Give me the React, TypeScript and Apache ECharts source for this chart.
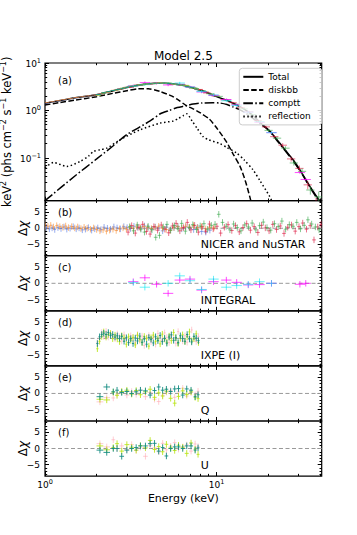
import React, { useEffect, useRef } from "react";
import * as echarts from "echarts";

const FONT = "DejaVu Sans";

// ---------- axis ranges ----------
const E_MIN = 1;
const E_MAX = 41;
const F_MIN = 0.0125;
const F_MAX = 10;
const R_LIM = 8.5;

// ---------- panel (a): model components ----------
const totalE = [1.0, 1.2, 1.5, 2.0, 2.5, 3.0, 3.5, 4.0, 4.5, 5.0, 5.5, 6.0, 6.5, 7.0, 8.0, 9.0, 10, 11.4, 12.5, 13.7, 15, 16.3, 18, 20.4, 23, 25, 28, 31, 35, 38, 41];
const totalF = [1.42, 1.6, 1.85, 2.15, 2.6, 3.05, 3.4, 3.65, 3.75, 3.75, 3.65, 3.5, 3.35, 3.1, 2.7, 2.3, 1.95, 1.65, 1.42, 1.2, 0.98, 0.78, 0.55, 0.37, 0.22, 0.15, 0.09, 0.052, 0.025, 0.016, 0.011];

const diskE = [1.0, 1.2, 1.5, 2.0, 2.5, 3.0, 3.5, 4.0, 4.7, 5.5, 6.0, 6.7, 7.3, 8.0, 9.1, 10.0, 11.4, 12.5, 13.7, 14.7, 15.6, 16.5];
const diskF = [1.3, 1.45, 1.65, 1.95, 2.3, 2.6, 2.85, 2.85, 2.5, 2.0, 1.65, 1.25, 1.08, 0.9, 0.65, 0.43, 0.22, 0.12, 0.066, 0.033, 0.0154, 0.007];

const comptE = [1.0, 1.5, 2.0, 2.5, 3.0, 3.5, 4.1, 4.7, 5.3, 5.9, 6.6, 7.3, 8.2, 9.5, 10.5, 11.5, 12.5, 13.7, 15, 16.3, 18, 19.5, 21, 23, 25, 28, 31, 35, 38, 41];
const comptF = [0.0125, 0.042, 0.095, 0.18, 0.31, 0.43, 0.6, 0.85, 1.0, 1.15, 1.25, 1.36, 1.43, 1.46, 1.43, 1.33, 1.18, 1.03, 0.85, 0.68, 0.52, 0.42, 0.32, 0.21, 0.145, 0.085, 0.05, 0.024, 0.015, 0.0095];

const reflE = [1.0, 1.12, 1.34, 1.6, 1.8, 1.91, 2.09, 2.29, 2.73, 3.58, 4.68, 5.6, 6.0, 6.4, 6.7, 7.2, 7.7, 8.35, 9.0, 10.45, 11.5, 13.1, 14.5, 16.3, 18, 20.4, 21.5];
const reflF = [0.062, 0.08, 0.066, 0.084, 0.11, 0.136, 0.148, 0.16, 0.24, 0.39, 0.54, 0.6, 0.68, 0.78, 0.85, 0.6, 0.42, 0.28, 0.24, 0.2, 0.165, 0.126, 0.09, 0.056, 0.032, 0.0153, 0.01];

// ---------- panel (a): unfolded spectra ----------
const nicerAE = [1.02, 1.10, 1.19, 1.29, 1.40, 1.52, 1.65, 1.79, 1.95, 2.12, 2.31, 2.52, 2.75, 3.0, 3.28, 3.58, 3.9, 4.26, 4.65, 5.08, 5.55, 6.06, 6.62, 7.23, 7.9, 8.63, 9.4];
const nicer1AF = [1.43, 1.52, 1.59, 1.67, 1.77, 1.85, 1.94, 2.02, 2.12, 2.25, 2.43, 2.63, 2.84, 3.06, 3.26, 3.46, 3.63, 3.72, 3.75, 3.72, 3.62, 3.47, 3.28, 2.98, 2.72, 2.42, 2.1];
const nicer2AF = [1.46, 1.53, 1.61, 1.69, 1.78, 1.87, 1.95, 2.03, 2.11, 2.23, 2.41, 2.61, 2.83, 3.06, 3.27, 3.46, 3.62, 3.72, 3.76, 3.73, 3.62, 3.5, 3.33, 3.03, 2.76, 2.46, 2.16];

const fpmaAE = [3.1, 3.5, 4.0, 4.5, 5.0, 5.6, 6.3, 7.0, 7.9, 8.8, 9.9, 11.1, 12.4, 13.9, 15.5, 17.4, 19.4, 21.7, 24.3, 27.2, 30.4, 34.0, 38.0];
const fpmaAF = [3.05, 3.43, 3.6, 3.78, 3.72, 3.58, 3.45, 3.06, 2.77, 2.33, 2.01, 1.68, 1.46, 1.14, 0.94, 0.61, 0.45, 0.28, 0.185, 0.095, 0.06, 0.027, 0.011];
const fpmaAErr = [0.02, 0.02, 0.02, 0.02, 0.02, 0.02, 0.02, 0.03, 0.03, 0.03, 0.03, 0.04, 0.04, 0.05, 0.05, 0.06, 0.07, 0.08, 0.1, 0.12, 0.15, 0.2, 0.3];
const fpmbAE = [3.2, 3.6, 4.1, 4.6, 5.2, 5.8, 6.5, 7.3, 8.2, 9.2, 10.3, 11.5, 12.9, 14.4, 16.1, 18.0, 20.1, 22.5, 25.2, 28.2, 31.5, 35.2, 39.4];
const fpmbAF = [3.22, 3.44, 3.7, 3.72, 3.76, 3.54, 3.38, 2.99, 2.6, 2.25, 1.98, 1.66, 1.35, 1.08, 0.82, 0.57, 0.38, 0.26, 0.16, 0.078, 0.052, 0.021, 0.015];
const fpmbAErr = [0.02, 0.02, 0.02, 0.02, 0.02, 0.02, 0.02, 0.03, 0.03, 0.03, 0.03, 0.04, 0.04, 0.05, 0.05, 0.06, 0.07, 0.08, 0.1, 0.12, 0.15, 0.2, 0.3];

const intMagE = [3.27, 3.82, 4.47, 5.22, 6.1, 7.0, 8.18, 9.6, 11.4, 13.1, 15.3, 17.8, 20.9, 30.6, 33.1];
const intMagAF = [3.3, 3.85, 3.73, 3.45, 3.55, 3.12, 2.45, 2.08, 1.7, 1.31, 0.92, 0.56, 0.34, 0.049, 0.035];
const intMagR = [0.5, 1.7, -0.3, -3.1, 1.0, 1.3, -2.1, 0.5, 1.0, 0.3, -0.5, -0.4, 0.0, -0.3, 0.0];
const intCyaE = [3.27, 3.82, 5.22, 6.1, 7.0, 8.18, 9.6, 11.4, 13.1, 15.3, 17.8, 20.9];
const intCyaAF = [3.26, 3.5, 3.72, 3.78, 3.1, 2.5, 2.12, 1.6, 1.27, 0.92, 0.58, 0.34];
const intCyaR = [0.2, -1.2, 0.0, 2.3, 0.8, -1.9, 1.3, -1.2, -0.7, -0.3, 0.5, 0.0];

const ixpeAE = [2.05, 2.2, 2.35, 2.5, 2.66, 2.83, 3.0, 3.2, 3.4, 3.62, 3.85, 4.1, 4.37, 4.65, 4.95, 5.27, 5.6, 5.96, 6.34, 6.75, 7.18, 7.64];
const du1AF = [2.18, 2.37, 2.46, 2.66, 2.78, 2.9, 3.08, 3.2, 3.37, 3.45, 3.62, 3.65, 3.76, 3.75, 3.76, 3.69, 3.66, 3.5, 3.42, 3.22, 3.04, 2.84];
const du2AF = [2.12, 2.35, 2.49, 2.64, 2.74, 2.93, 3.04, 3.22, 3.33, 3.5, 3.58, 3.69, 3.71, 3.78, 3.74, 3.73, 3.61, 3.53, 3.38, 3.26, 3.0, 2.87];
const du3AF = [2.16, 2.36, 2.5, 2.63, 2.77, 2.92, 3.06, 3.19, 3.36, 3.46, 3.61, 3.66, 3.75, 3.74, 3.77, 3.7, 3.65, 3.49, 3.43, 3.21, 3.05, 2.83];

// ---------- panel (b): NICER and NuSTAR residuals ----------
const nicer1E = [1.02, 1.06, 1.10, 1.14, 1.19, 1.24, 1.29, 1.34, 1.40, 1.46, 1.52, 1.58, 1.65, 1.72, 1.79, 1.87, 1.95, 2.03, 2.12, 2.21, 2.31, 2.41, 2.52, 2.63, 2.75, 2.88, 3.01, 3.15, 3.30, 3.46, 3.62, 3.80, 3.98, 4.18, 4.39, 4.61, 4.85, 5.10, 5.37, 5.65, 5.95, 6.27, 6.61, 6.97, 7.35, 7.76, 8.19, 8.65, 9.14];
const nicer1R = [0.3, -0.2, 0.1, -0.4, 0.2, -0.1, 0.4, -0.3, 0.0, 0.5, -0.2, 0.1, -0.5, -0.3, 0.2, -0.6, -0.2, 0.1, -0.4, 0.3, 0.0, -0.3, 0.4, 0.1, -0.2, 0.5, 0.2, -0.1, 0.6, 0.3, 0.0, 0.7, 0.2, -0.3, 0.4, 0.1, -0.8, 0.3, -0.5, 0.2, 0.6, -0.2, 0.4, 0.1, -0.4, 0.3, -1.0, -1.2, -0.6];
const nicer2E = [1.00, 1.04, 1.08, 1.12, 1.17, 1.22, 1.27, 1.32, 1.37, 1.43, 1.49, 1.55, 1.62, 1.69, 1.76, 1.84, 1.92, 2.00, 2.09, 2.18, 2.28, 2.38, 2.49, 2.60, 2.72, 2.85, 2.98, 3.12, 3.27, 3.43, 3.60, 3.78, 3.97, 4.17, 4.38, 4.60, 4.84, 5.09, 5.36, 5.64, 5.94, 6.26, 6.60, 6.96, 7.34, 7.75, 8.18, 8.64, 9.13, 9.65];
const nicer2R = [1.0, 0.6, 0.9, 0.4, 0.8, 0.5, 0.3, 0.7, 0.2, 0.5, 0.1, 0.4, -0.1, 0.3, 0.0, -0.3, 0.1, -0.4, -0.8, -0.5, -0.9, -0.6, -0.3, -0.7, -0.2, 0.1, -0.3, 0.2, 0.0, 0.4, 0.1, 0.5, 0.2, -0.1, 0.3, 0.6, 0.0, -0.4, -0.7, 0.2, 0.5, 0.1, 0.6, 0.3, 0.8, 0.2, 0.5, -0.2, 0.3, 0.1];
const fpmaE = [3.05, 3.20, 3.36, 3.53, 3.71, 3.90, 4.10, 4.31, 4.53, 4.76, 5.00, 5.26, 5.53, 5.81, 6.11, 6.42, 6.75, 7.09, 7.45, 7.83, 8.23, 8.65, 9.09, 9.56, 10.05, 10.56, 11.10, 11.67, 12.27, 12.90, 13.56, 14.25, 14.98, 15.75, 16.56, 17.41, 18.30, 19.24, 20.23, 21.27, 22.36, 23.51, 24.72, 25.99, 27.33, 28.74, 30.22, 31.78, 33.42, 35.15, 36.97, 38.89, 40.6];
const fpmaR = [-1.2, 0.8, -1.5, 0.3, 1.2, -1.0, -1.8, 0.5, -0.6, 1.0, -0.3, -1.4, 0.7, 1.5, -0.8, 0.2, 1.8, -0.5, 0.9, -1.2, 0.4, -0.9, 1.3, -0.2, 0.6, -1.5, 0.3, 1.1, -0.7, 0.8, -1.1, 0.2, 1.4, -0.6, 0.5, -1.3, 0.9, 0.1, -0.8, 1.2, -0.4, 0.7, -1.6, 0.3, 1.0, -0.9, 0.5, 1.6, -0.3, 0.8, -3.6, 0.4, 1.2];
const fpmbE = [3.12, 3.28, 3.45, 3.62, 3.80, 3.99, 4.20, 4.42, 4.65, 4.89, 5.14, 5.40, 5.67, 5.96, 6.26, 6.58, 6.92, 7.27, 7.64, 8.03, 8.44, 8.87, 9.32, 9.80, 10.30, 10.83, 11.38, 11.96, 12.57, 13.21, 13.88, 14.59, 15.34, 16.12, 16.94, 17.81, 18.72, 19.68, 20.69, 21.75, 22.86, 24.03, 25.26, 26.55, 27.91, 29.34, 30.84, 32.42, 34.08, 35.83, 37.66, 39.59];
const fpmbR = [0.5, -0.8, 1.0, -0.3, -1.2, 0.6, -0.5, -2.8, -2.2, 0.4, 1.2, -0.6, 0.8, -0.2, 1.5, -0.9, 0.3, 1.1, -0.4, 0.7, 1.4, -0.3, 0.9, 1.2, 4.3, 1.8, 0.6, -0.5, 1.3, 0.2, -0.8, 1.0, 0.4, 1.6, -0.5, 0.8, 1.9, 0.2, -0.6, 1.4, 0.5, 2.2, -0.3, 1.1, 0.6, 1.8, -0.2, 0.9, 2.6, 1.3, 0.4, -0.5];

// ---------- panel (d): IXPE I residuals ----------
const ixpeE = [2.02, 2.08, 2.14, 2.20, 2.27, 2.34, 2.41, 2.48, 2.56, 2.64, 2.72, 2.80, 2.89, 2.98, 3.07, 3.16, 3.26, 3.36, 3.46, 3.57, 3.68, 3.79, 3.91, 4.03, 4.15, 4.28, 4.41, 4.55, 4.69, 4.83, 4.98, 5.13, 5.29, 5.45, 5.62, 5.79, 5.97, 6.15, 6.34, 6.54, 6.74, 6.95, 7.16, 7.38, 7.61, 7.84];
const du3IR = [-1.6, 0.5, 1.2, 1.6, 1.2, 1.8, 0.9, 1.2, 0.4, 0.8, 0.0, 0.6, -0.9, 0.2, -1.3, -0.1, -1.6, 0.1, -0.8, 0.7, -1.2, -0.2, -1.8, 0.3, -0.3, -1.4, 0.5, -0.7, 0.9, -1.0, 0.0, -1.5, 0.4, 1.1, -0.6, 0.2, -1.3, 0.8, -0.1, -0.9, 1.2, -0.2, -1.1, 0.6, 0.1, -0.7];
const du2IR = [-3.2, -0.9, 0.6, 2.0, 0.4, 1.2, 1.5, -0.1, 1.0, -0.2, -1.0, 0.8, 0.1, -1.8, 0.5, -0.6, 0.3, -2.0, 0.9, -0.3, -1.3, 0.6, 0.0, -2.4, 0.2, 1.0, -0.9, -0.1, -1.7, 1.3, -0.2, -1.2, 0.7, -0.7, 1.8, 0.2, -1.6, 0.0, 1.1, -1.0, 0.5, 2.0, -0.8, -0.1, 1.4, -1.3];
const du1IR = [-1.4, 0.0, 1.8, 0.6, 2.2, 0.4, 1.5, 0.7, -0.1, 1.4, 0.5, -0.8, 1.1, -0.2, -1.2, 0.8, 0.1, -1.4, 1.2, -0.7, 0.7, -2.2, 0.2, 0.9, -1.0, 0.4, -1.8, 1.5, 0.0, -0.6, 1.7, 0.3, -1.3, 1.0, -0.1, -1.5, 2.1, 0.1, -0.8, 0.8, -1.2, 0.5, 2.6, -0.2, -1.0, 0.6];

// ---------- panels (e), (f): IXPE Q and U residuals ----------
const polE = [2.09, 2.29, 2.5, 2.63, 2.8, 3.0, 3.2, 3.4, 3.6, 3.85, 4.1, 4.35, 4.6, 4.85, 5.1, 5.4, 5.7, 6.0, 6.35, 6.7, 7.1, 7.5, 7.8];
const du3QR = [-1.0, 2.0, 0.5, 1.0, 0.3, 0.6, 0.0, 0.5, 1.0, 0.8, -0.5, 0.9, 2.0, 1.0, 1.3, 0.6, 1.4, 1.5, -0.5, 1.4, 1.0, -1.0, -0.4];
const du2QR = [-1.8, -2.0, 0.4, -0.6, 0.6, 1.0, -0.2, 0.9, -0.4, 0.5, 1.3, -1.2, 0.2, -0.8, 0.7, -1.5, -3.0, -0.9, 0.8, -0.3, 0.5, -1.2, -1.6];
const du1QR = [-2.6, -1.3, -1.4, -0.2, 0.5, -0.5, 0.6, -0.3, 1.0, -1.0, 0.3, -1.8, -2.5, -0.6, 0.4, 0.9, -1.2, 0.5, 1.6, -0.8, 0.3, -0.4, 0.7];
const du3UR = [-0.5, -1.2, 0.0, 0.0, -2.4, -0.5, 0.0, 0.3, 0.8, 0.8, 1.5, 1.6, -0.8, 0.3, -2.3, 0.0, 0.5, 0.5, 0.0, 0.8, 0.8, -0.5, 0.2];
const du2UR = [0.8, -0.4, 0.3, 1.5, -0.8, 1.2, 0.4, -0.5, 0.9, 0.2, 2.5, -0.3, 0.6, -1.0, 1.3, 0.2, -0.6, 1.0, 0.4, -1.5, 1.7, -0.2, -1.8];
const du1UR = [1.5, 0.5, 2.7, 0.0, 0.8, -0.3, 1.2, -0.6, 0.4, -2.4, 0.9, 0.2, -1.0, 1.6, -0.4, 0.7, 1.8, -0.2, 0.5, 1.1, -0.8, 1.4, 0.6];

// ---------- tick labels / texts ----------
const panelTags = ["(a)", "(b)", "(c)", "(d)", "(e)", "(f)"];
const panelNames = ["", "NICER and NuSTAR", "INTEGRAL", "IXPE (I)", "Q", "U"];
const legendNames = ["Total", "diskbb", "comptt", "reflection"];
const xMajorE = [1, 10];
const xMinorE = [2, 3, 4, 5, 6, 7, 8, 9, 20, 30, 40];
const yAMajor = [0.1, 1, 10];
const rMajor = [-5, 0, 5];
const rMinor = [-8, -7, -6, -4, -3, -2, -1, 1, 2, 3, 4, 6, 7, 8];

// ---------- colours ----------
const C_NICER1 = "rgba(65,105,225,0.55)";
const C_NICER2 = "rgba(255,140,40,0.6)";
const C_FPMA = "rgba(220,20,60,0.6)";
const C_FPMB = "rgba(50,165,70,0.6)";
const C_INT1 = "rgba(255,0,255,0.7)";
const C_INT2 = "rgba(0,230,240,0.6)";
const C_DU1 = "rgba(255,170,180,0.6)";
const C_DU2 = "rgba(185,228,20,0.85)";
const C_DU3 = "rgba(20,140,130,0.9)";

// ---------- layout ----------
const CW = 357;
const CH = 535;
const PL = 45;
const PR = 321.7;
const TOP_A = 63;
const H_A = 137.7;
const H_R = 55.07;

const lg = Math.log10;

function binEdges(E: number[], fixedDex?: number) {
  const lo: number[] = [];
  const hi: number[] = [];
  for (let i = 0; i < E.length; i++) {
    let d: number;
    if (fixedDex) d = fixedDex;
    else {
      const l = i > 0 ? lg(E[i]) - lg(E[i - 1]) : Infinity;
      const r = i < E.length - 1 ? lg(E[i + 1]) - lg(E[i]) : Infinity;
      d = Math.min(l, r) / 2;
    }
    lo.push(E[i] / Math.pow(10, d));
    hi.push(E[i] * Math.pow(10, d));
  }
  return [lo, hi];
}

function residPts(E: number[], R: number[], fixedDex?: number) {
  const [lo, hi] = binEdges(E, fixedDex);
  const n = Math.min(E.length, R.length);
  const out: number[][] = [];
  for (let i = 0; i < n; i++) out.push([E[i], R[i], lo[i], hi[i], R[i] - 1, R[i] + 1]);
  return out;
}

function fluxPts(E: number[], F: number[], err: number | number[], fixedDex?: number) {
  const [lo, hi] = binEdges(E, fixedDex);
  const n = Math.min(E.length, F.length);
  const out: number[][] = [];
  for (let i = 0; i < n; i++) {
    const e = Array.isArray(err) ? err[i] : err;
    out.push([E[i], F[i], lo[i], hi[i], F[i] * (1 - e), F[i] * (1 + e)]);
  }
  return out;
}

function buildOption() {
  const grids: any[] = [];
  const xAxes: any[] = [];
  const yAxes: any[] = [];
  const series: any[] = [];
  const graphics: any[] = [];
  const dataX: number[] = [];
  const dataY: number[] = [];

  const xMaxL = lg(E_MAX);
  const yMinL = lg(F_MIN);
  const yMaxL = lg(F_MAX);
  const yAMinor: number[] = [];
  for (const d of [0.01, 0.1, 1]) {
    for (let k = 2; k <= 9; k++) {
      const v = lg(d * k);
      if (v >= yMinL && v <= yMaxL) yAMinor.push(v);
    }
  }

  const supRich = {
    b: { fontSize: 9, fontFamily: FONT, color: "#000", lineHeight: 11, verticalAlign: "bottom" },
    s: { fontSize: 6.5, fontFamily: FONT, color: "#000", lineHeight: 6, verticalAlign: "top" },
  };
  const fmtExp = (v: number) => {
    const n = Math.round(v);
    return n < 0 ? "\u2212" + Math.abs(n) : String(n);
  };

  const tickAxis = (
    dim: "x" | "y",
    g: number,
    position: string,
    min: number,
    max: number,
    vals: number[],
    len: number,
    label?: any
  ) => {
    const ax: any = {
      type: "value",
      gridIndex: g,
      position,
      min,
      max,
      axisLine: { show: false, onZero: false },
      splitLine: { show: false },
      axisTick: {
        show: true,
        inside: true,
        length: len,
        customValues: vals,
        lineStyle: { color: "#000", width: 1 },
      },
      axisLabel: label ? label : { show: false },
    };
    if (dim === "x") xAxes.push(ax);
    else yAxes.push(ax);
  };

  const tops: number[] = [];
  for (let g = 0; g < 6; g++) {
    const top = g === 0 ? TOP_A : TOP_A + H_A + (g - 1) * H_R;
    const h = g === 0 ? H_A : H_R;
    tops.push(top);
    grids.push({
      left: PL,
      top,
      width: PR - PL,
      height: h,
      show: true,
      borderColor: "#000",
      borderWidth: 1.2,
      backgroundColor: "rgba(0,0,0,0)",
      containLabel: false,
    });
    dataX.push(xAxes.length);
    xAxes.push({ type: "log", logBase: 10, gridIndex: g, min: E_MIN, max: E_MAX, show: false });
    dataY.push(yAxes.length);
    if (g === 0) yAxes.push({ type: "log", logBase: 10, gridIndex: g, min: F_MIN, max: F_MAX, show: false });
    else yAxes.push({ type: "value", gridIndex: g, min: -R_LIM, max: R_LIM, show: false });

    // x ticks
    const xMaj = xMajorE.map(lg);
    const xMin = xMinorE.map(lg);
    const xLabel =
      g === 5
        ? {
            show: true,
            customValues: xMaj,
            margin: 2,
            formatter: (v: number) => `{b|10}{s|${fmtExp(v)}}`,
            rich: supRich,
          }
        : undefined;
    tickAxis("x", g, "bottom", 0, xMaxL, xMaj, 4, xLabel);
    tickAxis("x", g, "bottom", 0, xMaxL, xMin, 2.2);
    tickAxis("x", g, "top", 0, xMaxL, xMaj, 4);
    tickAxis("x", g, "top", 0, xMaxL, xMin, 2.2);

    // y ticks
    if (g === 0) {
      const yMaj = yAMajor.map(lg);
      tickAxis("y", g, "left", yMinL, yMaxL, yMaj, 4, {
        show: true,
        customValues: yMaj,
        margin: 4,
        formatter: (v: number) => `{b|10}{s|${fmtExp(v)}}`,
        rich: supRich,
      });
      tickAxis("y", g, "left", yMinL, yMaxL, yAMinor, 2.2);
      tickAxis("y", g, "right", yMinL, yMaxL, yMaj, 4);
      tickAxis("y", g, "right", yMinL, yMaxL, yAMinor, 2.2);
    } else {
      tickAxis("y", g, "left", -R_LIM, R_LIM, rMajor, 4, {
        show: true,
        customValues: rMajor,
        margin: 5,
        fontSize: 9,
        fontFamily: FONT,
        color: "#000",
        formatter: (v: number) => (v < 0 ? "\u2212" + Math.abs(v) : String(v)),
      });
      tickAxis("y", g, "left", -R_LIM, R_LIM, rMinor, 2.2);
      tickAxis("y", g, "right", -R_LIM, R_LIM, rMajor, 4);
      tickAxis("y", g, "right", -R_LIM, R_LIM, rMinor, 2.2);
    }
  }

  const crossSeries = (g: number, name: string, pts: number[][], color: string, z = 3) => ({
    type: "custom",
    name,
    xAxisIndex: dataX[g],
    yAxisIndex: dataY[g],
    clip: true,
    silent: true,
    z,
    encode: { x: 0, y: 1 },
    data: pts,
    renderItem: (_p: any, api: any) => {
      const e = api.value(0);
      const v = api.value(1);
      const c = api.coord([e, v]);
      const l = api.coord([api.value(2), v]);
      const r = api.coord([api.value(3), v]);
      const b = api.coord([e, api.value(4)]);
      const t = api.coord([e, api.value(5)]);
      return {
        type: "group",
        children: [
          { type: "line", shape: { x1: l[0], y1: c[1], x2: r[0], y2: c[1] }, style: { stroke: color, lineWidth: 1 } },
          { type: "line", shape: { x1: c[0], y1: b[1], x2: c[0], y2: t[1] }, style: { stroke: color, lineWidth: 1 } },
        ],
      };
    },
  });

  const modelLine = (name: string, E: number[], F: number[], type: any) => ({
    type: "line",
    name,
    xAxisIndex: dataX[0],
    yAxisIndex: dataY[0],
    data: E.map((e, i) => [e, F[i]]),
    symbol: "none",
    smooth: 0.25,
    silent: true,
    z: 2,
    itemStyle: { color: "#000" },
    lineStyle: { color: "#000", width: 1.5, type },
  });

  // panel (a)
  series.push(modelLine("Total", totalE, totalF, "solid"));
  series.push(modelLine("diskbb", diskE, diskF, [5.5, 2.4]));
  series.push(modelLine("comptt", comptE, comptF, [9.6, 2.4, 1.5, 2.4]));
  series.push(modelLine("reflection", reflE, reflF, [1.5, 2.5]));

  series.push(crossSeries(0, "n1a", fluxPts(nicerAE, nicer1AF, 0.02), C_NICER1));
  series.push(crossSeries(0, "n2a", fluxPts(nicerAE, nicer2AF, 0.02), C_NICER2));
  series.push(crossSeries(0, "faa", fluxPts(fpmaAE, fpmaAF, fpmaAErr), C_FPMA));
  series.push(crossSeries(0, "fba", fluxPts(fpmbAE, fpmbAF, fpmbAErr), C_FPMB));
  series.push(crossSeries(0, "i1a", fluxPts(intMagE, intMagAF, 0.06, 0.03), C_INT1));
  series.push(crossSeries(0, "i2a", fluxPts(intCyaE, intCyaAF, 0.06, 0.03), C_INT2));
  series.push(crossSeries(0, "d1a", fluxPts(ixpeAE, du1AF, 0.025), C_DU1));
  series.push(crossSeries(0, "d2a", fluxPts(ixpeAE, du2AF, 0.025), C_DU2));
  series.push(crossSeries(0, "d3a", fluxPts(ixpeAE, du3AF, 0.025), C_DU3));

  // residual panels
  for (let g = 1; g < 6; g++) {
    series.push({
      type: "line",
      xAxisIndex: dataX[g],
      yAxisIndex: dataY[g],
      data: [
        [E_MIN, 0],
        [E_MAX, 0],
      ],
      symbol: "none",
      silent: true,
      z: 2,
      lineStyle: { color: "#999", width: 1, type: [4, 2.5] },
    });
  }
  series.push(crossSeries(1, "n1r", residPts(nicer1E, nicer1R), C_NICER1));
  series.push(crossSeries(1, "n2r", residPts(nicer2E, nicer2R), C_NICER2));
  series.push(crossSeries(1, "far", residPts(fpmaE, fpmaR), C_FPMA));
  series.push(crossSeries(1, "fbr", residPts(fpmbE, fpmbR), C_FPMB));

  series.push(crossSeries(2, "i1r", residPts(intMagE, intMagR, 0.03), C_INT1));
  series.push(crossSeries(2, "i2r", residPts(intCyaE, intCyaR, 0.03), C_INT2));

  series.push(crossSeries(3, "d1i", residPts(ixpeE, du1IR), C_DU1));
  series.push(crossSeries(3, "d2i", residPts(ixpeE, du2IR), C_DU2));
  series.push(crossSeries(3, "d3i", residPts(ixpeE, du3IR), C_DU3));

  series.push(crossSeries(4, "d1q", residPts(polE, du1QR), C_DU1));
  series.push(crossSeries(4, "d2q", residPts(polE, du2QR), C_DU2));
  series.push(crossSeries(4, "d3q", residPts(polE, du3QR), C_DU3));

  series.push(crossSeries(5, "d1u", residPts(polE, du1UR), C_DU1));
  series.push(crossSeries(5, "d2u", residPts(polE, du2UR), C_DU2));
  series.push(crossSeries(5, "d3u", residPts(polE, du3UR), C_DU3));

  // texts
  const midX = (PL + PR) / 2;
  graphics.push({
    type: "text",
    x: midX,
    y: 56,
    style: { text: "Model 2.5", fontSize: 12, fontFamily: FONT, fill: "#000", align: "center", verticalAlign: "middle" },
  });
  graphics.push({
    type: "text",
    x: midX,
    y: 498,
    style: { text: "Energy (keV)", fontSize: 11, fontFamily: FONT, fill: "#000", align: "center", verticalAlign: "middle" },
  });
  graphics.push({
    type: "text",
    x: 7,
    y: TOP_A + H_A / 2,
    rotation: Math.PI / 2,
    style: {
      text: "keV{s|2} (phs cm{s|\u22122} s{s|\u22121} keV{s|\u22121})",
      fontSize: 11.5,
      fontFamily: FONT,
      fill: "#000",
      lineHeight: 15,
      align: "center",
      verticalAlign: "middle",
      rich: { s: { fontSize: 8, fontFamily: FONT, fill: "#000", lineHeight: 8, verticalAlign: "top" } },
    },
  });
  for (let g = 0; g < 6; g++) {
    const top = tops[g];
    const h = g === 0 ? H_A : H_R;
    graphics.push({
      type: "text",
      x: PL + 13,
      y: top + (g === 0 ? 17 : 11.5),
      style: { text: panelTags[g], fontSize: 10, fontFamily: FONT, fill: "#000", align: "left", verticalAlign: "middle" },
    });
    if (g > 0) {
      graphics.push({
        type: "text",
        x: 200.7,
        y: top + h - 10.8,
        style: { text: panelNames[g], fontSize: 11, fontFamily: FONT, fill: "#000", align: "left", verticalAlign: "middle" },
      });
      graphics.push({
        type: "text",
        x: 22.5,
        y: top + h / 2,
        rotation: Math.PI / 2,
        style: {
          text: "\u0394{i|\u03c7}",
          fontSize: 12,
          fontFamily: FONT,
          fill: "#000",
          align: "center",
          verticalAlign: "middle",
          rich: { i: { fontSize: 12, fontFamily: FONT, fontStyle: "italic", fill: "#000" } },
        },
      });
    }
  }

  return {
    animation: false,
    backgroundColor: "#fff",
    grid: grids,
    xAxis: xAxes,
    yAxis: yAxes,
    series,
    graphic: graphics,
    legend: {
      show: true,
      data: legendNames,
      left: 239.3,
      top: 68.3,
      orient: "vertical",
      itemWidth: 20,
      itemHeight: 10,
      itemGap: 4.2,
      padding: [4, 11, 4, 3],
      backgroundColor: "rgba(255,255,255,0.8)",
      borderColor: "#cccccc",
      borderWidth: 1,
      borderRadius: 3,
      selectedMode: false,
      itemStyle: { opacity: 0 },
      textStyle: { fontFamily: FONT, fontSize: 9, color: "#000" },
    },
  };
}

export default function App() {
  const ref = useRef<HTMLDivElement>(null);
  useEffect(() => {
    if (!ref.current) return;
    const chart = echarts.init(ref.current, null, { renderer: "svg" });
    chart.setOption(buildOption() as any);
    return () => chart.dispose();
  }, []);
  return <div ref={ref} style={{ width: CW, height: CH, position: "absolute", left: 0, top: 0 }} />;
}
